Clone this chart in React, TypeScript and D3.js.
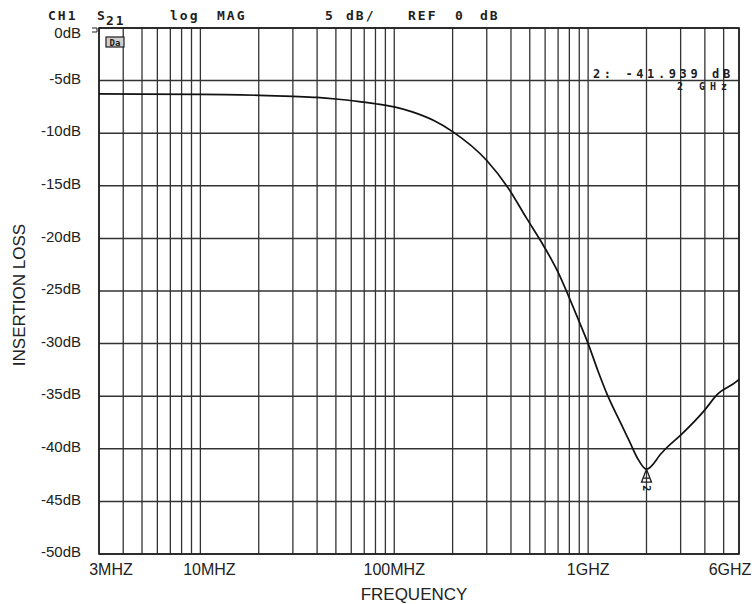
import React, { useEffect, useRef } from "react";
import * as d3 from "d3";

// S21 trace
const freqMHz = [3, 10, 20, 30, 40, 50, 66, 80, 100, 125, 160, 200, 300, 387, 482, 585, 716, 777, 885, 1000, 1124, 1265, 1458, 1643, 1786, 2000, 2394, 2541, 3000, 4000, 4600, 5835, 6000];
const lossDb = [-6.27, -6.3, -6.4, -6.5, -6.6, -6.75, -7.0, -7.2, -7.5, -8.0, -8.8, -9.85, -12.6, -15.2, -18.1, -20.6, -23.6, -25.1, -27.6, -30, -32.6, -35.0, -37.4, -39.4, -40.8, -41.94, -40.4, -39.9, -38.7, -36.3, -34.9, -33.6, -33.4];

const dbTicks = [0, -5, -10, -15, -20, -25, -30, -35, -40, -45, -50];
const freqTickMHz = [3, 10, 100, 1000, 6000];
const freqTickLabels = ["3MHZ", "10MHZ", "100MHZ", "1GHZ", "6GHZ"];

const markerFreqMHz = 2000;
const markerDb = -41.939;
const markerReadout = ["2: -41.939 dB", "2 GHz"];

const headerTokens = ["CH1", "S", "21", "log", "MAG", "5", "dB/", "REF", "0", "dB"];

const W = 756;
const H = 604;
const margin = { top: 28, right: 17, bottom: 50, left: 99 };

function App() {
  const svgRef = useRef<SVGSVGElement>(null);

  useEffect(() => {
    const svg = d3.select(svgRef.current);
    svg.selectAll("*").remove();

    const x = d3
      .scaleLog()
      .domain([3, 6000])
      .range([margin.left, W - margin.right]);
    const y = d3
      .scaleLinear()
      .domain([-50, 0])
      .range([H - margin.bottom, margin.top]);

    const ink = "#1e1e1e";

    // vertical log grid (1..9 per decade)
    svg
      .append("g")
      .selectAll("line")
      .data(x.ticks())
      .enter()
      .append("line")
      .attr("x1", (d) => x(d))
      .attr("x2", (d) => x(d))
      .attr("y1", y(0))
      .attr("y2", y(-50))
      .attr("stroke", "#333")
      .attr("stroke-width", 1.3);

    // horizontal 5 dB grid
    svg
      .append("g")
      .selectAll("line")
      .data(dbTicks)
      .enter()
      .append("line")
      .attr("x1", x(3))
      .attr("x2", x(6000))
      .attr("y1", (d) => y(d))
      .attr("y2", (d) => y(d))
      .attr("stroke", "#333")
      .attr("stroke-width", 1.5);

    // frame
    svg
      .append("rect")
      .attr("x", x(3))
      .attr("y", y(0))
      .attr("width", x(6000) - x(3))
      .attr("height", y(-50) - y(0))
      .attr("fill", "none")
      .attr("stroke", ink)
      .attr("stroke-width", 1.6);

    // reference pointer + small annotation box
    svg
      .append("path")
      .attr("d", `M${x(3) - 7},${y(0)} h5 v4 h-5`)
      .attr("fill", "none")
      .attr("stroke", ink)
      .attr("stroke-width", 1);
    svg
      .append("rect")
      .attr("x", x(3) + 7)
      .attr("y", y(0) + 9)
      .attr("width", 18)
      .attr("height", 10)
      .attr("fill", "#cfcfcf")
      .attr("stroke", ink)
      .attr("stroke-width", 1.2);
    svg
      .append("text")
      .attr("x", x(3) + 16)
      .attr("y", y(0) + 17.5)
      .attr("text-anchor", "middle")
      .style("font-family", "DejaVu Sans Mono")
      .style("font-size", "9px")
      .style("font-weight", "bold")
      .attr("fill", ink)
      .text("Da");

    // trace
    const pts: [number, number][] = freqMHz.map((f, i) => [x(f), y(lossDb[i])]);
    const line = d3.line().curve(d3.curveMonotoneX);
    svg
      .append("path")
      .attr("d", line(pts))
      .attr("fill", "none")
      .attr("stroke", "#111")
      .attr("stroke-width", 1.7);

    // marker 2
    const mx = x(markerFreqMHz);
    const my = y(markerDb);
    svg
      .append("path")
      .attr("d", `M${mx},${my} L${mx - 5},${my + 13} L${mx + 5},${my + 13} Z M${mx - 4},${my + 9} H${mx + 4}`)
      .attr("fill", "none")
      .attr("stroke", ink)
      .attr("stroke-width", 1.3);
    svg
      .append("text")
      .attr("transform", `translate(${mx - 3},${my + 16}) rotate(90)`)
      .style("font-family", "DejaVu Sans Mono")
      .style("font-size", "10px")
      .style("font-weight", "bold")
      .attr("fill", ink)
      .text("2");

    // marker readout
    svg
      .append("text")
      .attr("x", 593)
      .attr("y", y(-5) - 3)
      .style("font-family", "DejaVu Sans Mono")
      .style("font-size", "12px")
      .style("font-weight", "bold")
      .style("letter-spacing", "3.6px")
      .attr("fill", ink)
      .text(markerReadout[0]);
    svg
      .append("text")
      .attr("x", 677)
      .attr("y", y(-5) + 9)
      .style("font-family", "DejaVu Sans Mono")
      .style("font-size", "10px")
      .style("font-weight", "bold")
      .style("letter-spacing", "5px")
      .attr("fill", ink)
      .text(markerReadout[1]);

    // header line
    const headerX = [48, 97, 106, 170, 217, 325, 346, 408, 455, 480];
    svg
      .append("g")
      .selectAll("text")
      .data(headerTokens)
      .enter()
      .append("text")
      .attr("x", (d, i) => headerX[i])
      .attr("y", (d, i) => (i === 2 ? 25 : 20))
      .style("font-family", "DejaVu Sans Mono")
      .style("font-size", "13px")
      .style("font-weight", "bold")
      .style("letter-spacing", "2px")
      .attr("fill", ink)
      .text((d) => d);

    // y tick labels
    svg
      .append("g")
      .selectAll("text")
      .data(dbTicks)
      .enter()
      .append("text")
      .attr("x", 81)
      .attr("y", (d) => Math.max(y(d) - 2, margin.top + 5))
      .attr("dy", "0.35em")
      .attr("text-anchor", "end")
      .style("font-family", "Liberation Sans, Arial, sans-serif")
      .style("font-size", "15px")
      .attr("fill", "#222")
      .text((d) => `${d}dB`);

    // x tick labels
    const labelNudge = [12, 9, 0, 0, -9];
    svg
      .append("g")
      .selectAll("text")
      .data(freqTickMHz)
      .enter()
      .append("text")
      .attr("x", (d, i) => x(d) + labelNudge[i])
      .attr("y", y(-50) + 21)
      .attr("text-anchor", "middle")
      .style("font-family", "Liberation Sans, Arial, sans-serif")
      .style("font-size", "16px")
      .attr("fill", "#222")
      .text((d, i) => freqTickLabels[i]);

    // axis titles
    svg
      .append("text")
      .attr("x", 414)
      .attr("y", 600)
      .attr("text-anchor", "middle")
      .style("font-family", "Liberation Sans, Arial, sans-serif")
      .style("font-size", "17px")
      .attr("fill", "#222")
      .text("FREQUENCY");
    svg
      .append("text")
      .attr("transform", `translate(25,${(y(0) + y(-50)) / 2 + 4}) rotate(-90)`)
      .attr("text-anchor", "middle")
      .style("font-family", "Liberation Sans, Arial, sans-serif")
      .style("font-size", "17px")
      .attr("fill", "#222")
      .text("INSERTION LOSS");
  }, []);

  return (
    <svg
      ref={svgRef}
      width={W}
      height={H}
      style={{ position: "absolute", left: 0, top: 0, background: "#fff" }}
    />
  );
}

export default App;
